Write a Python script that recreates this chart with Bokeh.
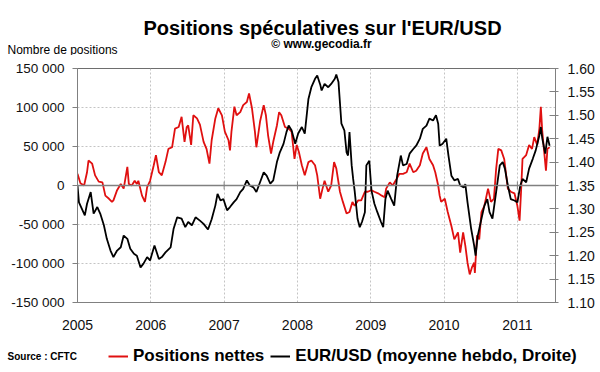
from bokeh.plotting import figure
from bokeh.layouts import column
from bokeh.models import (Range1d, LinearAxis, FixedTicker, Span, Label, Legend,
                          LegendItem, NumeralTickFormatter)
from bokeh.embed import file_html
from bokeh.resources import INLINE

FONT = "Liberation Sans"

# ---- data -------------------------------------------------------------
year_ticks = [2005, 2006, 2007, 2008, 2009, 2010, 2011]
year_labels = ["2005", "2006", "2007", "2008", "2009", "2010", "2011"]
left_ticks = [-150000, -100000, -50000, 0, 50000, 100000, 150000]
left_labels = ["-150 000", "-100 000", "-50 000", "0", "50 000", "100 000", "150 000"]
right_ticks = [1.10, 1.15, 1.20, 1.25, 1.30, 1.35, 1.40, 1.45, 1.50, 1.55, 1.60]

# Positions nettes (number of contracts)
net_dates = [
    2005.00, 2005.04, 2005.09, 2005.13, 2005.15, 2005.20, 2005.24, 2005.29, 2005.34, 2005.38,
    2005.43, 2005.47, 2005.49, 2005.54, 2005.59, 2005.63, 2005.68, 2005.70, 2005.74, 2005.78,
    2005.81, 2005.83, 2005.88, 2005.92, 2005.95, 2005.99, 2006.04, 2006.07, 2006.11, 2006.15,
    2006.20, 2006.24, 2006.29, 2006.33, 2006.38, 2006.42, 2006.46, 2006.49, 2006.51, 2006.55,
    2006.58, 2006.63, 2006.67, 2006.72, 2006.76, 2006.80, 2006.83, 2006.88, 2006.92, 2006.97,
    2007.01, 2007.06, 2007.08, 2007.10, 2007.14, 2007.17, 2007.22, 2007.26, 2007.31, 2007.34,
    2007.38, 2007.42, 2007.44, 2007.49, 2007.54, 2007.57, 2007.60, 2007.64, 2007.67, 2007.72,
    2007.75, 2007.78, 2007.83, 2007.88, 2007.92, 2007.96, 2007.99, 2008.02, 2008.06, 2008.10,
    2008.15, 2008.19, 2008.24, 2008.27, 2008.31, 2008.34, 2008.37, 2008.42, 2008.46, 2008.50,
    2008.53, 2008.58, 2008.62, 2008.67, 2008.71, 2008.75, 2008.78, 2008.83, 2008.87, 2008.92,
    2008.96, 2009.01, 2009.05, 2009.10, 2009.15, 2009.19, 2009.21, 2009.26, 2009.30, 2009.35,
    2009.39, 2009.44, 2009.49, 2009.53, 2009.58, 2009.62, 2009.67, 2009.71, 2009.76, 2009.80,
    2009.85, 2009.88, 2009.92, 2009.94, 2009.96, 2010.01, 2010.05, 2010.10, 2010.14, 2010.19,
    2010.22, 2010.26, 2010.29, 2010.32, 2010.35, 2010.38, 2010.41, 2010.42, 2010.45, 2010.48,
    2010.51, 2010.55, 2010.60, 2010.64, 2010.68, 2010.71, 2010.74, 2010.78, 2010.82, 2010.87,
    2010.91, 2010.96, 2011.00, 2011.03, 2011.05, 2011.07, 2011.12, 2011.16, 2011.20, 2011.23,
    2011.27, 2011.30, 2011.32, 2011.34, 2011.37, 2011.39, 2011.41, 2011.44,
]
net_positions = [
    15000, 3000, 0, 17000, 32000, 28000, 13000, 5000, 4000, -13000,
    -17000, -21000, -19000, -6000, 2000, -4000, 24000, 2000, 0, 6000,
    2000, 6000, -13000, -21000, -2000, 6000, 26000, 39000, 17000, 13000,
    30000, 47000, 49000, 73000, 75000, 88000, 56000, 75000, 77000, 52000,
    90000, 86000, 78000, 56000, 47000, 28000, 58000, 86000, 99000, 90000,
    69000, 58000, 45000, 69000, 101000, 90000, 94000, 103000, 107000, 118000,
    99000, 69000, 49000, 82000, 103000, 90000, 64000, 41000, 56000, 77000,
    94000, 90000, 75000, 73000, 69000, 34000, 52000, 43000, 26000, 13000,
    30000, 32000, 26000, 13000, -17000, -5000, 6000, -8000, 0, 30000,
    22000, -8000, -21000, -36000, -34000, -21000, -26000, -19000, -19000, -8000,
    -8000, -6000, -8000, -10000, -13000, -15000, -4000, 4000, 0, 8000,
    15000, 15000, 17000, 28000, 17000, 19000, 26000, 41000, 49000, 34000,
    26000, 17000, 0, -13000, -21000, -17000, -34000, -52000, -69000, -60000,
    -86000, -60000, -77000, -99000, -114000, -105000, -99000, -112000, -64000, -69000,
    -34000, -26000, -4000, -21000, -17000, 21000, 47000, 45000, 34000, -4000,
    -8000, -10000, -26000, -45000, -8000, 34000, 39000, 52000, 47000, 62000,
    52000, 73000, 101000, 69000, 39000, 19000, 47000, 49000,
]

# EUR/USD weekly average (right axis)
fx_dates = [
    2005.00, 2005.02, 2005.06, 2005.10, 2005.13, 2005.18, 2005.22, 2005.27, 2005.31, 2005.36,
    2005.40, 2005.45, 2005.49, 2005.54, 2005.59, 2005.63, 2005.68, 2005.72, 2005.77, 2005.81,
    2005.86, 2005.90, 2005.95, 2005.99, 2006.05, 2006.11, 2006.15, 2006.20, 2006.27, 2006.31,
    2006.36, 2006.42, 2006.47, 2006.51, 2006.56, 2006.61, 2006.67, 2006.72, 2006.78, 2006.83,
    2006.88, 2006.91, 2006.95, 2006.99, 2007.04, 2007.08, 2007.13, 2007.17, 2007.22, 2007.26,
    2007.31, 2007.35, 2007.40, 2007.44, 2007.49, 2007.54, 2007.58, 2007.63, 2007.67, 2007.72,
    2007.76, 2007.81, 2007.85, 2007.88, 2007.92, 2007.97, 2008.01, 2008.06, 2008.10, 2008.15,
    2008.19, 2008.24, 2008.27, 2008.31, 2008.33, 2008.37, 2008.42, 2008.46, 2008.51, 2008.53,
    2008.56, 2008.60, 2008.64, 2008.67, 2008.69, 2008.71, 2008.74, 2008.76, 2008.78, 2008.82,
    2008.85, 2008.88, 2008.92, 2008.94, 2008.98, 2009.01, 2009.05, 2009.09, 2009.14, 2009.17,
    2009.20, 2009.23, 2009.28, 2009.32, 2009.36, 2009.41, 2009.44, 2009.49, 2009.53, 2009.58,
    2009.62, 2009.67, 2009.71, 2009.76, 2009.80, 2009.85, 2009.89, 2009.92, 2009.94, 2009.98,
    2010.03, 2010.06, 2010.10, 2010.14, 2010.19, 2010.22, 2010.27, 2010.29, 2010.32, 2010.37,
    2010.41, 2010.43, 2010.46, 2010.51, 2010.55, 2010.59, 2010.62, 2010.66, 2010.71, 2010.76,
    2010.80, 2010.83, 2010.87, 2010.91, 2010.96, 2011.00, 2011.04, 2011.07, 2011.12, 2011.16,
    2011.21, 2011.25, 2011.30, 2011.32, 2011.34, 2011.38, 2011.41, 2011.44,
]
eurusd = [
    1.350, 1.314, 1.300, 1.286, 1.311, 1.336, 1.290, 1.304, 1.290, 1.265,
    1.236, 1.211, 1.197, 1.211, 1.218, 1.243, 1.236, 1.215, 1.204, 1.200,
    1.175, 1.183, 1.197, 1.190, 1.222, 1.193, 1.197, 1.207, 1.218, 1.257,
    1.282, 1.279, 1.261, 1.272, 1.265, 1.282, 1.275, 1.268, 1.256, 1.278,
    1.307, 1.332, 1.318, 1.321, 1.297, 1.304, 1.314, 1.321, 1.336, 1.343,
    1.361, 1.350, 1.346, 1.336, 1.357, 1.378, 1.371, 1.354, 1.361, 1.400,
    1.421, 1.439, 1.464, 1.478, 1.468, 1.439, 1.461, 1.475, 1.461, 1.535,
    1.560, 1.578, 1.585, 1.566, 1.553, 1.567, 1.560, 1.567, 1.578, 1.587,
    1.571, 1.482, 1.468, 1.421, 1.414, 1.464, 1.393, 1.364, 1.339, 1.279,
    1.261, 1.272, 1.293, 1.393, 1.403, 1.339, 1.311, 1.293, 1.272, 1.261,
    1.321, 1.339, 1.321, 1.307, 1.371, 1.414, 1.393, 1.396, 1.418, 1.428,
    1.435, 1.450, 1.471, 1.478, 1.493, 1.489, 1.500, 1.482, 1.435, 1.439,
    1.450, 1.414, 1.371, 1.361, 1.364, 1.350, 1.346, 1.353, 1.314, 1.257,
    1.222, 1.200, 1.243, 1.279, 1.307, 1.321, 1.293, 1.279, 1.336, 1.393,
    1.400, 1.386, 1.350, 1.321, 1.318, 1.314, 1.350, 1.364, 1.357, 1.386,
    1.407, 1.425, 1.457, 1.475, 1.450, 1.418, 1.454, 1.435,
]

RED = "#e01010"
BLACK = "#000000"


def blank(h):
    f = figure(width=600, height=h, output_backend="svg", toolbar_location=None,
               x_range=Range1d(0, 1), y_range=Range1d(0, 1),
               x_axis_type=None, y_axis_type=None, min_border=0,
               frame_align=False)
    f.outline_line_color = None
    f.background_fill_color = "white"
    f.border_fill_color = "white"
    f.grid.visible = False
    return f


def lab(f, x, y, text, size, bold=False, align="left"):
    f.add_layout(Label(x=x, y=y, x_units="screen", y_units="screen", text=text,
                       text_font=FONT, text_font_size=size,
                       text_font_style="bold" if bold else "normal",
                       text_align=align, text_baseline="alphabetic",
                       text_color="#000000"))


# ---- header -----------------------------------------------------------
HEAD_H = 55
head = blank(HEAD_H)
lab(head, 322, HEAD_H - 27, "Positions spéculatives sur l'EUR/USD", "20px", bold=True, align="center")
lab(head, 321, HEAD_H - 43.5, "© www.gecodia.fr", "12px", bold=True, align="center")
lab(head, 7, HEAD_H - 49, "Nombre de positions", "12px")

# ---- main plot --------------------------------------------------------
MAIN_H = 285
p = figure(width=600, height=MAIN_H, output_backend="svg", toolbar_location=None,
           x_range=Range1d(2005, 2011.52), y_range=Range1d(-150000, 150000),
           min_border_left=77, min_border_right=45, min_border_top=13,
           min_border_bottom=38)
p.extra_y_ranges = {"eur": Range1d(1.10, 1.60)}
p.background_fill_color = "white"
p.border_fill_color = "white"
p.outline_line_color = "#6e6e6e"
p.outline_line_width = 1

p.xgrid.ticker = FixedTicker(ticks=year_ticks)
p.ygrid.ticker = FixedTicker(ticks=left_ticks)
for g in (p.xgrid, p.ygrid):
    g.grid_line_color = "#c4c4c4"
    g.grid_line_dash = "2 2"
    g.grid_line_width = 1

ya = p.yaxis[0]
ya.ticker = FixedTicker(ticks=left_ticks)
ya.major_label_overrides = {float(v): s for v, s in zip(left_ticks, left_labels)}
ya.major_tick_in = 0
ya.major_tick_out = 5
ya.minor_tick_line_color = None
ya.major_label_standoff = 8
ya.axis_line_color = "#808080"
ya.major_tick_line_color = "#808080"
ya.major_label_text_font = FONT
ya.major_label_text_font_size = "13.5px"
ya.major_label_text_color = "#111111"

xa = p.xaxis[0]
xa.ticker = FixedTicker(ticks=year_ticks)
xa.major_label_overrides = {float(v): s for v, s in zip(year_ticks, year_labels)}
xa.major_tick_in = 0
xa.major_tick_out = 0
xa.minor_tick_line_color = None
xa.major_label_standoff = 17
xa.axis_line_color = "#808080"
xa.major_label_text_font = FONT
xa.major_label_text_font_size = "14px"
xa.major_label_text_color = "#111111"

ra = LinearAxis(y_range_name="eur", ticker=FixedTicker(ticks=right_ticks),
                formatter=NumeralTickFormatter(format="0.00"))
ra.major_tick_in = 6
ra.major_tick_out = 3
ra.minor_tick_line_color = None
ra.major_label_standoff = 9
ra.axis_line_color = "#808080"
ra.major_tick_line_color = "#808080"
ra.major_label_text_font = FONT
ra.major_label_text_font_size = "14px"
ra.major_label_text_color = "#111111"
p.add_layout(ra, "right")

p.add_layout(Span(location=0, dimension="width", line_color="#808080", line_width=1.5))
p.segment(x0=year_ticks[1:], y0=[-5000] * 6, x1=year_ticks[1:], y1=[5000] * 6,
          line_color="#808080", line_width=1)

p.line(net_dates, net_positions, line_color=RED, line_width=1.8)
p.line(fx_dates, eurusd, y_range_name="eur", line_color=BLACK, line_width=1.8)

# ---- footer (legend + source) ----------------------------------------
FOOT_H = 372 - HEAD_H - MAIN_H
foot = blank(FOOT_H)
# legend keys: same series, outside this strip's view (only the key samples show)
k_net = foot.line(net_dates, net_positions, line_color=RED, line_width=2)
k_fx = foot.line(fx_dates, eurusd, line_color=BLACK, line_width=2)
legend = Legend(items=[LegendItem(label="Positions nettes", renderers=[k_net]),
                       LegendItem(label="EUR/USD (moyenne hebdo, Droite)", renderers=[k_fx])],
                orientation="horizontal", location=(108, 6), padding=0, margin=0,
                spacing=6, glyph_width=20, glyph_height=18, label_height=18,
                label_standoff=5, label_text_font=FONT, label_text_font_size="17px",
                label_text_font_style="bold", label_text_color="#000000",
                border_line_alpha=0, background_fill_alpha=0)
foot.add_layout(legend)
lab(foot, 7, 16, "Source : CFTC", "10px", bold=True)

layout = column(head, p, foot, spacing=0)
open("out.html", "w").write(file_html(layout, INLINE))
